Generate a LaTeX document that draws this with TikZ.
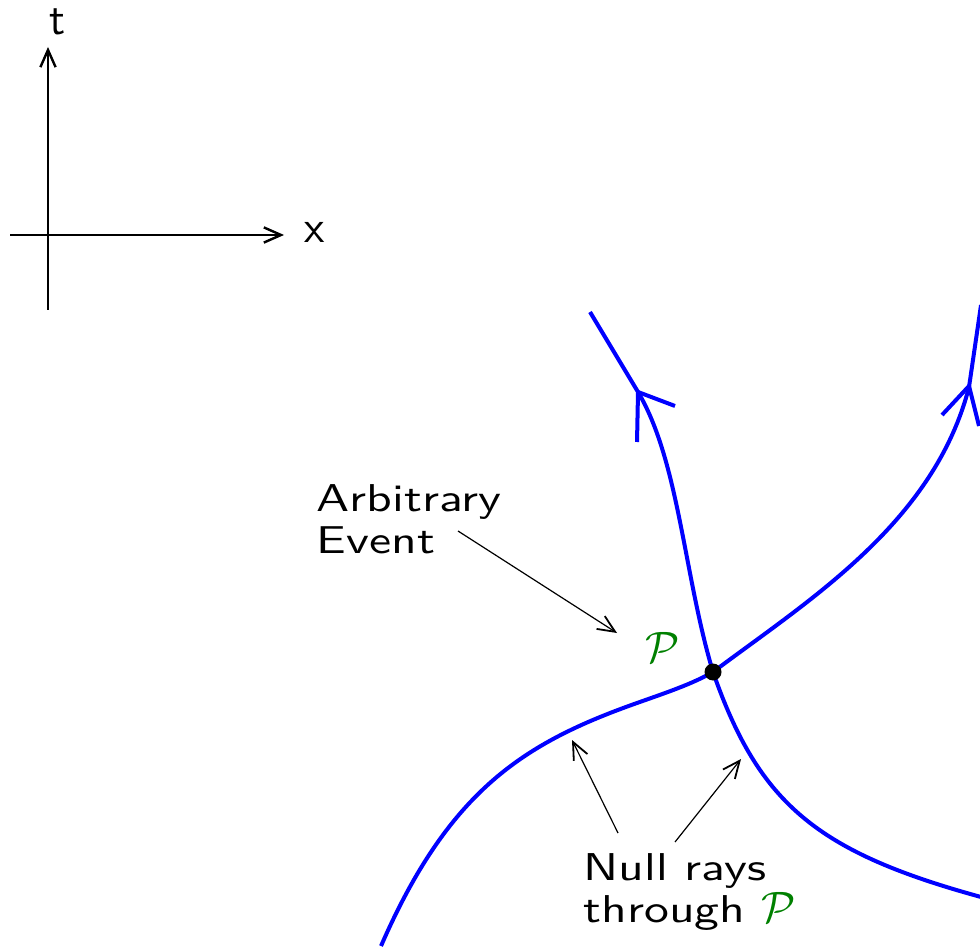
\documentclass[tikz,border=0pt]{standalone}
\usetikzlibrary{arrows.meta}
\definecolor{ray}{RGB}{0,0,255}
\definecolor{evgreen}{RGB}{0,128,0}
\newcommand{\wlines}[1]{\scalebox{1.28}[1]{\begin{tabular}[t]{@{}l@{}}#1\end{tabular}}}
\tikzset{
  axis/.style={line width=0.6pt,-{Straight Barb[length=4.3pt,width=3.8pt,line width=0.6pt]}},
  pointer/.style={line width=0.3pt,-{Straight Barb[length=4.3pt,width=3.8pt,line width=0.45pt]}},
  nullray/.style={draw=ray,line width=1pt},
  label/.style={font=\sffamily\fontsize{9.7}{10.3}\selectfont,inner sep=0pt},
  axlabel/.style={font=\sffamily\fontsize{11.3}{12}\selectfont,inner sep=0pt},
}
\begin{document}
\begin{tikzpicture}[x=0.25pt,y=-0.25pt]
\useasboundingbox (0,0) rectangle (980,949);
% axes
\coordinate (tbot) at (48,310);
\coordinate (ttop) at (48,47);
\coordinate (xleft) at (10,235);
\coordinate (xright) at (284,235);
\draw[axis] (tbot) -- (ttop);
\draw[axis] (xleft) -- (xright);
\node[axlabel,anchor=base] (tlab) at (58,35) {t};
\node[axlabel,anchor=base] (xlab) at (315,243) {x};
% event
\coordinate (ev) at (713,672);
% null ray A (bottom-left to upper-right)
\draw[nullray] (381,946) .. controls (449,790) and (524,743) .. (637,703)
  .. controls (668,692) and (692,684) .. (ev)
  .. controls (809,600) and (934,523) .. (969,387) -- (981,305);
% null ray B (top to bottom-right)
\draw[nullray] (590,312) -- (638,392)
  .. controls (679,461) and (684,576) .. (ev)
  .. controls (759,804) and (817,852) .. (981,897);
% arrowheads on the rays
\coordinate (tipB) at (638,392);
\coordinate (tipA) at (969,386);
\draw[nullray] (tipB) ++(-1,50) -- (tipB) -- ++(37,14);
\draw[nullray] (tipA) ++(-27,29) -- (tipA) -- ++(10,40);
\fill (ev) circle[radius=8.5];
% labels
\node[label,anchor=base west] (arb) at (316,512) {\wlines{Arbitrary\\Event}};
\node[label,anchor=base,text=evgreen] (P) at (663,662) {\scalebox{1.1}{$\mathcal{P}$}};
\node[label,anchor=base west] (nul) at (583,880) {\wlines{Null rays\\through \textcolor{evgreen}{\scalebox{0.86}[1.1]{$\mathcal{P}$}}}};
% pointers
\coordinate (a1) at (458,531);
\coordinate (a2) at (617,633);
\draw[pointer] (a1) -- (a2);
\coordinate (n1) at (618,833);
\coordinate (n2) at (572,740);
\coordinate (n3) at (675,842);
\coordinate (n4) at (741,759);
\draw[pointer] (n1) -- (n2);
\draw[pointer] (n3) -- (n4);
\end{tikzpicture}
\end{document}
